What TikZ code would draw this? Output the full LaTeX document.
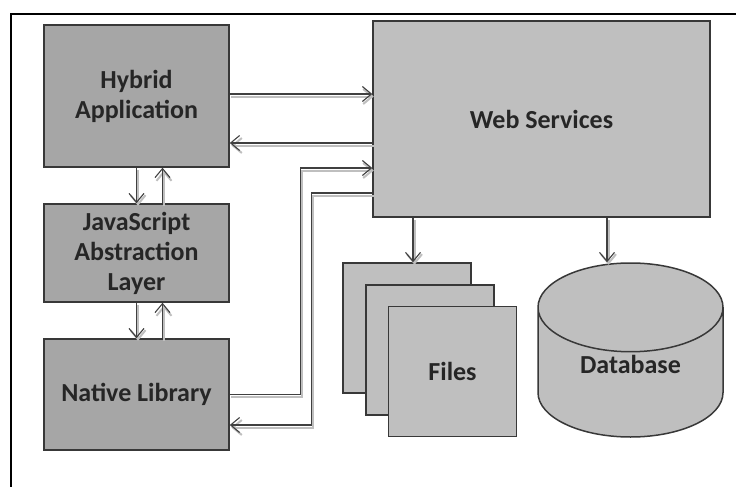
\documentclass[tikz,border=0pt]{standalone}
\usepackage{fontspec}
\setmainfont{Carlito}
\usetikzlibrary{arrows.meta}
\usetikzlibrary{positioning}
\usetikzlibrary{shapes.geometric}

\begin{document}
\begin{tikzpicture}
			[x=1pt,y=-1pt,
			every node/.style={draw=black!78,line width=1.5pt,align=center,inner sep=0pt,
				text=black!85,font=\bfseries\fontsize{26}{30}\selectfont},
			darkbox/.style={fill=black!35,minimum width=185pt},
			lightbox/.style={fill=black!25},
			filebox/.style={lightbox,minimum width=128pt,minimum height=130pt},
			link/.style={draw=black!75,line width=1.1pt,-{Straight Barb[length=9pt,width=15pt]},
				preaction={draw=black!25,line width=2pt,transform canvas={shift={(1.5pt,-2.5pt)}}}}]
			\useasboundingbox (0,0) rectangle (736,487);
			\draw[line width=2.2pt] (11,487) -- (11,14) -- (736,14);
			
			\node[darkbox,minimum height=142pt] (hyb) at (136.5,96) {Hybrid\\Application};
			\node[darkbox,minimum height=98pt] (jsl) at (136.5,253) {JavaScript\\Abstraction\\Layer};
			\node[darkbox,minimum height=111pt] (nat) at (136.5,394.5) {Native Library};
			\node[lightbox,minimum width=337pt,minimum height=196pt] (web) at (541.5,119) {Web Services};
			\node[filebox] (f1) at (407,328) {};
			\node[filebox] (f2) at (430,350) {};
			\node[filebox] (f3) at (452.5,371.5) {Files};
			\node[lightbox,cylinder,shape border rotate=90,aspect=0.88,anchor=shape center,
				minimum width=185pt,minimum height=174pt] (db) at (630.5,350) {\raisebox{16pt}{Database}};
			
			\draw[link] ([yshift=2pt]hyb.east) -- ([yshift=2pt]hyb.east -| web.west);
			\draw[link] ([yshift=-24pt]web.west) -- ([yshift=-24pt]web.west -| hyb.east);
			\draw[link] (hyb.south) -- (jsl.north);
			\draw[link] ([xshift=26pt]jsl.north) -- ([xshift=26pt]hyb.south);
			\draw[link] (jsl.south) -- (nat.north);
			\draw[link] ([xshift=26pt]nat.north) -- ([xshift=26pt]jsl.south);
			\draw[link] (nat.east) -- ++(71,0) |- ([yshift=-49pt]web.west);
			\draw[link] ([yshift=-74pt]web.west) -| ([xshift=82pt,yshift=-30.5pt]nat.east) -- ([yshift=-30.5pt]nat.east);
			\draw[link] ([xshift=-128.5pt]web.south) -- ([xshift=-128.5pt]web.south |- f1.north);
			\draw[link] ([xshift=65.5pt]web.south) -- ([xshift=65.5pt]web.south |- db.north);
\end{tikzpicture}
\end{document}
